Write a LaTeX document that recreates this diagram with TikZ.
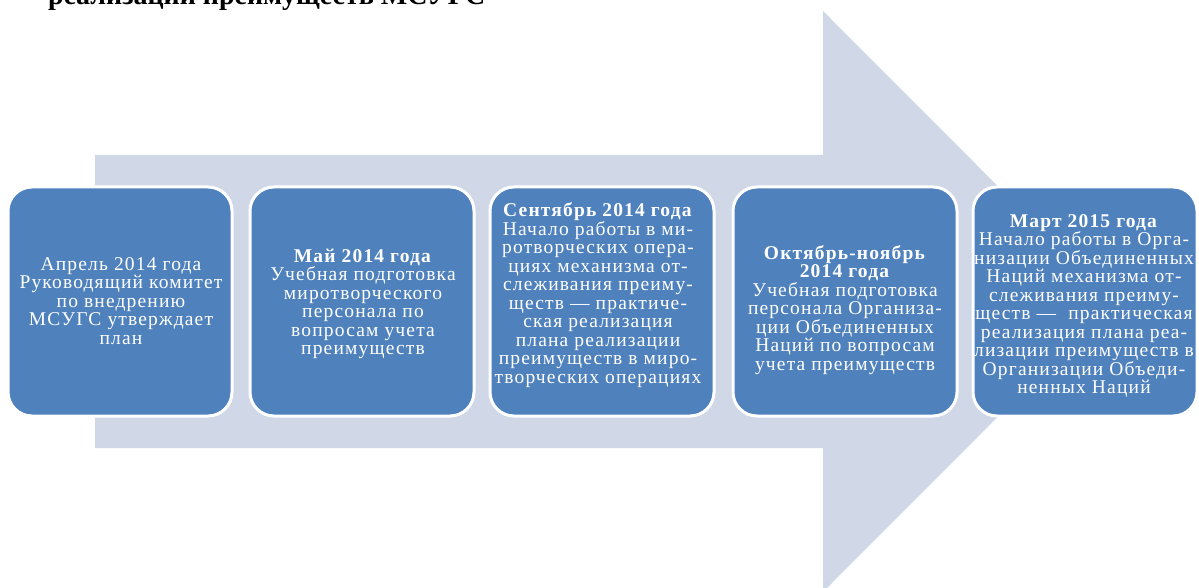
\documentclass[tikz,border=0pt]{standalone}
\usepackage{fontspec}
\setmainfont{Liberation Serif}
\newfontfamily\boxfont[LetterSpace=6]{Liberation Serif}
\definecolor{arrowfill}{HTML}{D0D8E8}
\definecolor{boxfill}{HTML}{4F81BD}
\tikzset{
  stage/.style={rounded corners=24pt, fill=boxfill, draw=white, line width=3pt,
    minimum width=224pt, minimum height=229pt, inner sep=0pt, anchor=center},
  stagetext/.style={text=white, align=center, font=\boxfont\fontsize{19.5}{18.5}\selectfont, inner sep=0pt}
}
\begin{document}
\begin{tikzpicture}[x=1pt,y=-1pt]
\useasboundingbox (0,0) rectangle (1199,588);
\clip (0,0) rectangle (1199,588);
\node[anchor=base west, font=\bfseries\fontsize{28}{30}\selectfont, inner sep=0pt] (title) at (48,5) {реализации преимуществ МСУГС};
\fill[arrowfill] (95,155) -- (823,155) -- (823,11) -- (1113,301.5) -- (823,592) -- (823,448) -- (95,448) -- cycle;
\node[stage] (b1) at (120,301.5) {};
\node[stage] (b2) at (362,301.5) {};
\node[stage] (b3) at (602,301.5) {};
\node[stage] (b4) at (845,301.5) {};
\node[stage] (b5) at (1085,301.5) {};
\node[stagetext] (t1) at (121,301) {Апрель 2014 года\\Руководящий комитет\\по внедрению\\МСУГС утверждает\\план};
\node[stagetext] (t2) at (363,304) {\textbf{Май 2014 года}\\Учебная подготовка\\миротворческого\\персонала по\\вопросам учета\\преимуществ};
\node[stagetext] (t3) at (598,295) {\textbf{Сентябрь 2014 года}\\Начало работы в ми-\\ротворческих опера-\\циях механизма от-\\слеживания преиму-\\ществ — практиче-\\ская реализация\\плана реализации\\преимуществ в миро-\\творческих операциях};
\node[stagetext] (t4) at (845,310) {\textbf{Октябрь-ноябрь}\\\textbf{2014 года}\\Учебная подготовка\\персонала Организа-\\ции Объединенных\\Наций по вопросам\\учета преимуществ};
\node[stagetext] (t5) at (1084,306) {\textbf{Март 2015 года}\\Начало работы в Орга-\\низации Объединенных\\Наций механизма от-\\слеживания преиму-\\ществ —\ \ практическая\\реализация плана реа-\\лизации преимуществ в\\Организации Объеди-\\ненных Наций};
\end{tikzpicture}
\end{document}
